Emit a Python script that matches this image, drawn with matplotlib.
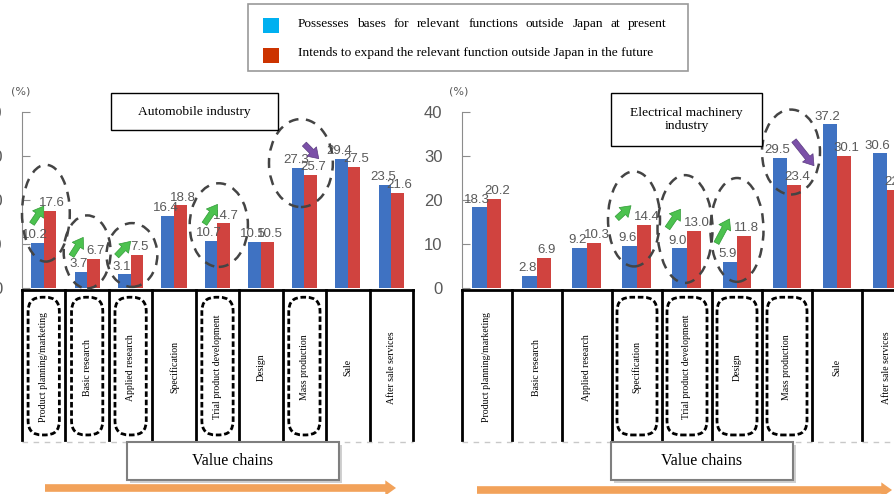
import matplotlib
matplotlib.use("Agg")
import matplotlib.pyplot as plt
from matplotlib.patches import Rectangle, Ellipse, FancyBboxPatch, FancyArrowPatch

# value chain stages (table columns)
stages = ["Product planning/marketing", "Basic research", "Applied research",
          "Specification", "Trial product development", "Design",
          "Mass production", "Sale", "After sale services"]

# automobile industry (%)
auto_now = [10.2, 3.7, 3.1, 16.4, 10.7, 10.5, 27.3, 29.4, 23.5]
auto_future = [17.6, 6.7, 7.5, 18.8, 14.7, 10.5, 25.7, 27.5, 21.6]
auto_marked = [0, 1, 2, 4, 6]

# electrical machinery industry (%)
elec_now = [18.3, 2.8, 9.2, 9.6, 9.0, 5.9, 29.5, 37.2, 30.6]
elec_future = [20.2, 6.9, 10.3, 14.4, 13.0, 11.8, 23.4, 30.1, 22.3]
elec_marked = [3, 4, 5, 6]

yticks = [0, 10, 20, 30, 40]
legend_labels = ["Possesses bases for relevant functions outside Japan at present",
                 "Intends to expand the relevant function outside Japan in the future"]

BLUE = "#3F72C2"
RED = "#D0433F"
GREEN = "#4CC24F"
PURPLE = "#7B50A8"
GRAY = "#595959"
SERIF = ["Liberation Serif", "DejaVu Serif"]
NARROW = ["Liberation Sans Narrow", "Liberation Sans", "DejaVu Sans"]

W, H = 895, 494
fig = plt.figure(figsize=(W / 100, H / 100), dpi=100)


def fx(px):
    return px / W


def fy(py):
    return 1 - py / H


def fig_box(x0, y0, x1, y1, ec="#000000", lw=1.0, shadow=False):
    if shadow:
        fig.add_artist(Rectangle((fx(x0 + 3), fy(y1 + 3)), (x1 - x0) / W, (y1 - y0) / H,
                                 transform=fig.transFigure, fc="#d0d0d0", ec="none"))
    fig.add_artist(Rectangle((fx(x0), fy(y1)), (x1 - x0) / W, (y1 - y0) / H,
                             transform=fig.transFigure, fc="white", ec=ec, lw=lw))


def small_arrow(ax, p0, p1, fc, ec):
    ax.add_patch(FancyArrowPatch(p0, p1, shrinkA=0, shrinkB=0,
                                 arrowstyle="simple,head_width=1.2,head_length=0.9,tail_width=0.5",
                                 mutation_scale=8, fc=fc, ec=ec, lw=0.5, zorder=6))


def panel(left, width, now, future, marked, ellipses, greens, purple, pad):
    # y: 0 at 288px, 40 at 112px -> 4.4 px per unit
    ax = fig.add_axes([fx(left), 0, width / W, 424 / H])
    ax.set_xlim(-0.5, 8.5)
    ax.set_ylim(-206 / 4.4, 218 / 4.4)
    for s in ["top", "right", "bottom"]:
        ax.spines[s].set_visible(False)
    ax.spines["left"].set_bounds(0, 40)
    ax.spines["left"].set_color("#8c8c8c")
    ax.set_xticks([])
    ax.set_yticks(yticks)
    ax.tick_params(axis="y", direction="in", length=6, color="#8c8c8c",
                   labelsize=12, labelcolor=GRAY, pad=pad)
    for t in ax.get_yticklabels():
        t.set_family(["Liberation Sans", "DejaVu Sans"])

    xs = list(range(len(stages)))
    bw = 0.29
    ax.bar([x - bw / 2 for x in xs], now, bw, color=BLUE, zorder=2)
    ax.bar([x + bw / 2 for x in xs], future, bw, color=RED, zorder=2)
    for x, a, b in zip(xs, now, future):
        ax.text(x - bw / 2 - 0.05, a + 0.4, f"{a:.1f}", ha="center", va="bottom",
                fontsize=9.5, color=GRAY, family=NARROW, zorder=4)
        ax.text(x + bw / 2 + 0.05, b + 0.4, f"{b:.1f}", ha="center", va="bottom",
                fontsize=9.5, color=GRAY, family=NARROW, zorder=4)

    # value chain table under the bars
    top, bot = -0.45, -34.5
    ax.plot([-0.5, 8.5], [top, top], color="black", lw=2, clip_on=False, zorder=3)
    for i in range(len(stages) + 1):
        ax.plot([i - 0.5, i - 0.5], [top, bot], color="black", lw=2,
                clip_on=False, zorder=3)
    ax.plot([-0.5, 8.5], [bot - 0.5, bot - 0.5], color="#c8c8c8", lw=1,
            ls=(0, (4, 4)), clip_on=False)
    px_per_x = width / 9
    for i, name in enumerate(stages):
        ax.text(i, -18, name, rotation=90, ha="center", va="center",
                fontsize=7, family=SERIF, zorder=4)
        if i in marked:
            bw_box = 0.72 if px_per_x < 46 else 0.8
            r = 14 / px_per_x
            box = FancyBboxPatch((i - bw_box / 2 + r, -33.4 + r * px_per_x / 4.4),
                                 bw_box - 2 * r, 31.3 - 2 * r * px_per_x / 4.4,
                                 boxstyle=f"round,pad={r},rounding_size={r}",
                                 mutation_aspect=px_per_x / 4.4,
                                 fc="none", ec="black", lw=2, ls=(0, (2, 1)),
                                 zorder=4, clip_on=False)
            ax.add_patch(box)

    # dashed rings around the highlighted pairs
    for cx, cy, w, h in ellipses:
        ax.add_patch(Ellipse((cx, cy), w, h, fill=False, ec="#444444", lw=1.8,
                             ls=(0, (4, 3)), zorder=5, clip_on=False))
    for p0, p1 in greens:
        small_arrow(ax, p0, p1, GREEN, "#2f9a35")
    small_arrow(ax, purple[0], purple[1], PURPLE, "#5a3a80")
    return ax


panel(22, 391, auto_now, auto_future, auto_marked,
      ellipses=[(0.05, 17.0, 1.10, 22), (1.0, 8.2, 1.08, 16.6), (2.03, 7.5, 1.17, 14.5),
                (4.03, 14.3, 1.34, 19), (5.92, 28.4, 1.47, 20)],
      greens=[((-0.27, 14.6), (0.0, 18.6)), ((0.64, 7.3), (0.91, 11.5)),
              ((1.68, 7.3), (2.0, 10.6)), ((3.70, 14.6), (4.0, 19.0))],
      purple=((6.0, 32.7), (6.33, 29.4)), pad=14)

panel(462, 450, elec_now, elec_future, elec_marked,
      ellipses=[(2.94, 15.7, 1.04, 21.6), (3.96, 13.4, 1.10, 24.5),
                (5.0, 13.2, 1.06, 23.6), (6.08, 30.9, 1.16, 19.3)],
      greens=[((2.60, 15.8), (2.88, 18.7)), ((3.61, 13.6), (3.87, 17.9)),
              ((4.59, 10.2), (4.85, 15.7))],
      purple=((6.14, 33.5), (6.54, 27.8)), pad=14)

# (%) unit labels
fig.text(fx(21), fy(92), "(%)", ha="center", va="center", fontsize=8, color=GRAY)
fig.text(fx(459), fy(92), "(%)", ha="center", va="center", fontsize=8, color=GRAY)

# panel titles
fig_box(111, 93, 278, 130)
fig.text(fx(194.5), fy(111.5), "Automobile industry", ha="center", va="center",
         fontsize=9.7, family=SERIF)
fig_box(611, 93, 762, 146)
fig.text(fx(686.5), fy(119.5), "Electrical machinery\nindustry", ha="center", va="center",
         fontsize=9.7, family=SERIF, linespacing=1.2)

# value chain captions and arrows
for x0, x1 in [(127, 339), (611, 793)]:
    fig_box(x0, 442, x1, 480, ec="#7f7f7f", lw=1.5, shadow=True)
    fig.text(fx((x0 + x1) / 2), fy(461), "Value chains", ha="center", va="center",
             fontsize=11.5, family=SERIF)
for x0, x1, y in [(45, 396, 488), (477, 892, 490)]:
    fig.add_artist(FancyArrowPatch((fx(x0), fy(y)), (fx(x1), fy(y)),
                                   transform=fig.transFigure, shrinkA=0, shrinkB=0,
                                   arrowstyle="simple,head_width=1.0,head_length=0.7,tail_width=0.5",
                                   mutation_scale=11, fc="#F2A25A", ec="none"))

# legend box
fig_box(248, 4, 688, 71, ec="#9a9a9a", lw=1.2)
fig.add_artist(Rectangle((fx(263), fy(33)), 16 / W, 15 / H, transform=fig.transFigure,
                         fc="#00B0F0", ec="none"))
fig.add_artist(Rectangle((fx(263), fy(63)), 16 / W, 15 / H, transform=fig.transFigure,
                         fc="#CC3300", ec="none"))

# first legend line is justified between two edges
renderer = fig.canvas.get_renderer()
words = legend_labels[0].split()
arts = [fig.text(0, fy(24), w, ha="left", va="center", fontsize=9.6, family=SERIF)
        for w in words]
widths = [a.get_window_extent(renderer).width for a in arts]
gap = (667 - 298 - sum(widths)) / (len(words) - 1)
xpos = 298
for a, wd in zip(arts, widths):
    a.set_x(fx(xpos))
    xpos += wd + gap
fig.text(fx(298), fy(53), legend_labels[1], ha="left", va="center", fontsize=9.6,
         family=SERIF)

fig.savefig("out.png", dpi=100)
